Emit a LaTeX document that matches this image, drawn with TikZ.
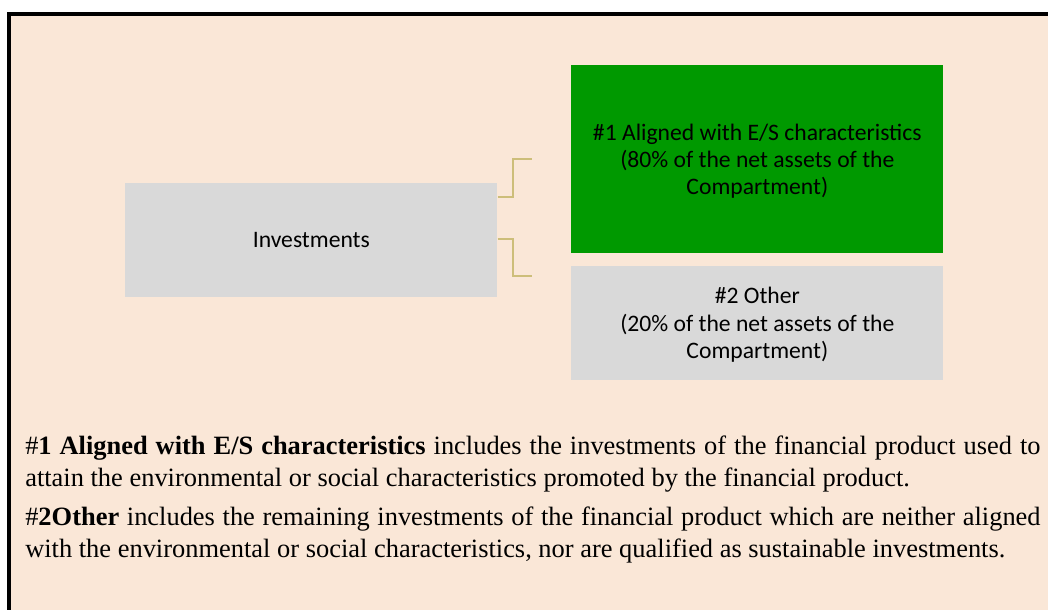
\documentclass[tikz,border=0pt]{standalone}
\usepackage{fontspec}
\setmainfont{Liberation Serif}
\newfontfamily\boxfont{Carlito}
\usetikzlibrary{positioning}
\definecolor{pagebg}{HTML}{FAE7D7}
\definecolor{boxgray}{HTML}{D9D9D9}
\definecolor{esgreen}{HTML}{009900}
\definecolor{linkgold}{HTML}{CDBE7A}

\begin{document}
\begin{tikzpicture}[x=0.025cm,y=-0.025cm,
  box/.style={inner sep=0pt,align=center,font=\boxfont\fontsize{16.8}{19.4}\selectfont,anchor=north west},
  link/.style={draw=linkgold,line width=1.2pt},
  note/.style={inner sep=0pt,anchor=north west,text width=25.375cm,align=justify,
    font=\fontsize{18.8}{22.3}\selectfont}]
  \useasboundingbox (0,0) rectangle (1048,610);
  % frame
  \fill[pagebg] (9,14) rectangle (1048,610);
  \draw[line width=2.4pt] (9,610) -- (9,14) -- (1048,14);
  % boxes
  \node[box,fill=boxgray,minimum width=9.3cm,minimum height=2.85cm] (invest) at (125,183)
    {Investments};
  \node[box,fill=esgreen,minimum width=9.3cm,minimum height=4.7cm,text depth=-5pt] (aligned) at (571,65)
    {\#1 Aligned with E/S characteristics\\(80\% of the net assets of the\\Compartment)};
  \node[box,fill=boxgray,minimum width=9.3cm,minimum height=2.83cm,text depth=-4pt] (other) at (571,266)
    {\#2 Other\\(20\% of the net assets of the\\Compartment)};
  % connectors
  \coordinate (topend) at (532,159);
  \coordinate (botend) at (532,276);
  \draw[link] (invest.east |- 0,197) -| (513,159) -- (topend);
  \draw[link] (invest.east |- 0,239) -| (513,276) -- (botend);
  % explanation
  \node[note] (notes) at (25,436)
    {\#\textbf{1 Aligned with E/S characteristics} includes the investments of the financial product used to\linebreak attain the environmental or social characteristics promoted by the financial product.\par
     \vspace{5.9pt}\#\textbf{2Other} includes the remaining investments of the financial product which are neither aligned\linebreak with the environmental or social characteristics, nor are qualified as sustainable investments.};
\end{tikzpicture}
\end{document}
